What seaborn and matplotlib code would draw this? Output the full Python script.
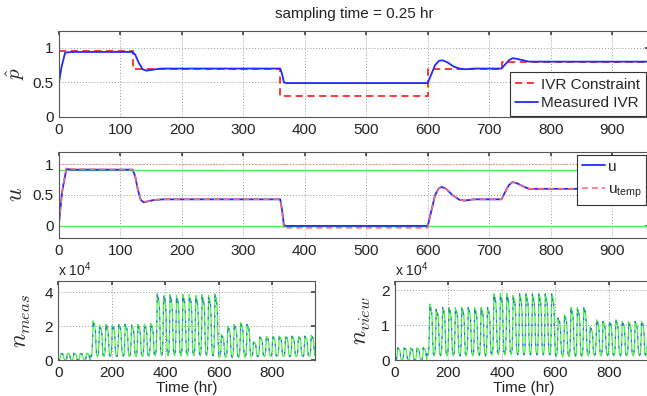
import matplotlib
matplotlib.use("Agg")
import matplotlib.pyplot as plt
from matplotlib.ticker import FuncFormatter
import seaborn as sns

# ---- IVR: constraint (steps) and measured response ----
t_con = [0, 120, 120, 360, 360, 600, 600, 720, 720, 960]
ivr_con = [0.95, 0.95, 0.70, 0.70, 0.30, 0.30, 0.70, 0.70, 0.80, 0.80]

t_ivr = [0, 4, 10, 20, 60, 120, 124, 130, 136, 142, 150, 165, 360, 363, 366,
         370, 600, 605, 612, 618, 624, 632, 642, 652, 662, 675, 720, 726, 732,
         738, 745, 755, 765, 780, 960]
ivr_meas = [0.50, 0.72, 0.93, 0.94, 0.94, 0.94, 0.90, 0.78, 0.69, 0.67, 0.68,
            0.70, 0.70, 0.62, 0.50, 0.49, 0.49, 0.60, 0.75, 0.81, 0.82, 0.79,
            0.73, 0.70, 0.69, 0.70, 0.70, 0.76, 0.82, 0.85, 0.84, 0.82, 0.80,
            0.80, 0.80]

# ---- control input u and u_temp ----
t_u = [0, 5, 12, 20, 120, 124, 128, 133, 138, 145, 155, 170, 360, 363, 366,
       370, 600, 606, 612, 618, 623, 630, 640, 652, 660, 675, 720, 726, 732,
       738, 745, 755, 765, 775, 960]
u_vals = [0.05, 0.55, 0.92, 0.91, 0.91, 0.80, 0.60, 0.42, 0.38, 0.40, 0.42,
          0.43, 0.43, 0.25, 0.01, 0.00, 0.00, 0.25, 0.50, 0.61, 0.63, 0.60,
          0.50, 0.42, 0.41, 0.43, 0.43, 0.55, 0.66, 0.71, 0.69, 0.64, 0.60,
          0.60, 0.60]
u_temp = [0.05, 0.55, 0.95, 0.92, 0.91, 0.80, 0.60, 0.42, 0.38, 0.40, 0.42,
          0.43, 0.43, 0.22, -0.05, -0.03, -0.03, 0.25, 0.50, 0.61, 0.63, 0.60,
          0.50, 0.42, 0.41, 0.43, 0.43, 0.55, 0.66, 0.71, 0.69, 0.64, 0.60,
          0.60, 0.60]
u_low, u_high, u_max = 0.0, 0.9, 1.0

# ---- daily cycles of n_meas / n_view (peak and trough per day, x 1e4) ----
meas_peak = [0.40, 0.40, 0.40, 0.40, 0.40,
             2.30, 2.05, 2.10, 2.05, 2.10, 2.10, 2.05, 2.10, 2.10, 2.15,
             3.90, 3.80, 3.85, 3.80, 3.85, 3.85, 3.80, 3.85, 3.80, 3.90,
             1.50, 2.00, 2.10, 2.20, 2.10,
             1.10, 1.35, 1.40, 1.40, 1.40, 1.40, 1.40, 1.40, 1.40, 1.45]
meas_trough = [0.00] * 5 + [0.20] * 10 + [0.25] * 10 + [0.15] * 5 + [0.20] * 10
view_peak = [0.35, 0.35, 0.35, 0.35, 0.35,
             1.60, 1.45, 1.50, 1.50, 1.50, 1.50, 1.50, 1.50, 1.50, 1.50,
             1.90, 1.90, 1.90, 1.85, 1.90, 1.90, 1.90, 1.90, 1.90, 1.90,
             1.20, 1.30, 1.50, 1.50, 1.50,
             0.95, 1.15, 1.10, 1.10, 1.15, 1.10, 1.10, 1.10, 1.10, 1.10]
view_trough = [0.00] * 5 + [0.12] * 10 + [0.15] * 10 + [0.10] * 5 + [0.12] * 10
meas_start, view_start = 3.0, 1.4
# shape of one day (hour of day, fraction between trough and peak)
cycle_hours = [0, 3, 6, 8, 10, 12, 14, 17, 19, 21, 23]
cycle_shape = [0.04, 0.0, 0.08, 0.40, 1.0, 0.88, 0.94, 0.85, 0.70, 0.30, 0.06]


def daily_series(peaks, troughs, start):
    t, v = [0], [start * 1e4]
    for d, (pk, tr) in enumerate(zip(peaks, troughs)):
        for h, f in zip(cycle_hours, cycle_shape):
            t.append(24 * d + h)
            v.append((tr + f * (pk - tr)) * 1e4)
    t.append(24 * len(peaks))
    v.append(v[-1])
    return t, v


sns.set_theme(style="white")
plt.rcParams['font.family'] = ['Liberation Sans', 'DejaVu Sans']
plt.rcParams['font.weight'] = 'normal'
plt.rcParams['axes.labelweight'] = 'normal'
plt.rcParams['mathtext.fontset'] = 'custom'
plt.rcParams['mathtext.rm'] = 'Liberation Sans'
plt.rcParams['mathtext.it'] = 'Liberation Sans:italic'
plt.rcParams['mathtext.bf'] = 'Liberation Sans:bold'

W, H = 647, 396
fig = plt.figure(figsize=(W / 100, H / 100), dpi=100)


def px_axes(left, top, width, height):
    return fig.add_axes([left / W, 1 - (top + height) / H, width / W, height / H])


def style(ax, xticks, yticks, xlim, ylim):
    ax.set_xlim(xlim)
    ax.set_ylim(ylim)
    ax.set_xticks(xticks)
    ax.set_yticks(yticks)
    ax.grid(True, linestyle=(0, (1, 2)), color='#999999', linewidth=0.7)
    ax.tick_params(direction='in', length=3, top=True, right=True,
                   labelsize=11, pad=4, color='#444444', labelcolor='#222222')
    for s in ax.spines.values():
        s.set_color('#555555')
        s.set_linewidth(0.8)
    ax.set_xlabel('')


RED = '#ff2a2a'
BLUE = '#1f2bff'
GREEN = '#44f044'

# ---- top: IVR ----
ax1 = px_axes(59, 30.5, 590, 86.5)
sns.lineplot(x=t_con, y=ivr_con, ax=ax1, color=RED, lw=1.3, sort=False,
             estimator=None, linestyle=(0, (4, 2.5)), label='IVR Constraint')
sns.lineplot(x=t_ivr, y=ivr_meas, ax=ax1, color=BLUE, lw=1.3, sort=False,
             estimator=None, label='Measured IVR')
style(ax1, range(0, 1000, 100), [0, 0.5, 1], (0, 960), (0, 1.25))
ax1.yaxis.set_major_formatter(FuncFormatter(lambda v, p: f'{v:g}'))
ax1.set_ylabel(r'$\hat{p}$', fontsize=15, math_fontfamily='cm')
ax1.yaxis.set_label_coords(-0.054, 0.5)
ax1.set_title('sampling time = 0.25 hr', fontsize=11, pad=9, color='#222222')
leg1 = ax1.legend(loc='upper left', bbox_to_anchor=(510 / W, 1 - 72.3 / H),
                  bbox_transform=fig.transFigure, borderaxespad=0, fontsize=11,
                  handlelength=1.45, handletextpad=0.25, labelspacing=0.3,
                  borderpad=0.35, fancybox=False, framealpha=1)
leg1.get_frame().set_edgecolor('#333333')
leg1.get_frame().set_linewidth(0.8)

# ---- middle: u ----
ax2 = px_axes(59, 151.7, 590, 86.6)
ax2.axhline(u_max, color='#ff7777', lw=0.8, linestyle=(0, (1, 2)))
ax2.axhline(u_high, color='#55ee55', lw=1.0)
ax2.axhline(u_low, color='#55ee55', lw=1.0)
sns.lineplot(x=t_u, y=u_vals, ax=ax2, color=BLUE, lw=1.3, sort=False,
             estimator=None, label='u')
sns.lineplot(x=t_u, y=u_temp, ax=ax2, color='#ff6a6a', lw=1.1, sort=False,
             estimator=None, linestyle=(0, (4, 2.5)), label=r'u$_{\mathrm{temp}}$')
style(ax2, range(0, 1000, 100), [0, 0.5, 1], (0, 960), (-0.2, 1.2))
ax2.yaxis.set_major_formatter(FuncFormatter(lambda v, p: f'{v:g}'))
ax2.set_ylabel(r'$u$', fontsize=17, math_fontfamily='cm')
ax2.yaxis.set_label_coords(-0.055, 0.5)
leg2 = ax2.legend(loc='upper left', bbox_to_anchor=(577.3 / W, 1 - 155 / H),
                  bbox_transform=fig.transFigure, borderaxespad=0, fontsize=11,
                  handlelength=1.5, handletextpad=0.2, labelspacing=0.6,
                  borderpad=0.3, fancybox=False, framealpha=1)
leg2.get_frame().set_edgecolor('#333333')
leg2.get_frame().set_linewidth(0.8)

# ---- bottom: n_meas and n_view ----
panels = [
    (58.3, meas_peak, meas_trough, meas_start, r'$n_{meas}$', [0, 2e4, 4e4],
     4.65e4, -0.10),
    (395.0, view_peak, view_trough, view_start, r'$n_{view}$', [0, 1e4, 2e4],
     2.26e4, -0.086),
]
for left, pk, tr, st, lab, yt, ytop, lx in panels:
    ax = px_axes(left, 281, 256.7, 79)
    t, v = daily_series(pk, tr, st)
    sns.lineplot(x=t, y=v, ax=ax, color=GREEN, lw=0.9, sort=False,
                 estimator=None)
    sns.lineplot(x=t, y=v, ax=ax, color='#3050ff', lw=0.9, sort=False,
                 estimator=None, linestyle=(0, (2, 6)), alpha=0.8)
    style(ax, range(0, 1000, 200), yt, (0, 960), (0, ytop))
    ax.yaxis.set_major_formatter(FuncFormatter(lambda v, p: f'{v / 1e4:g}'))
    ax.set_xlabel('Time (hr)', fontsize=11, labelpad=1, color='#222222',
                  fontweight='normal', family='Liberation Sans')
    ax.set_ylabel(lab, fontsize=17, math_fontfamily='cm')
    ax.yaxis.set_label_coords(lx, 0.5)
    ax.text(0, 1.02, r'x 10$^{4}$', transform=ax.transAxes, fontsize=10,
            ha='left', va='bottom', color='#222222')

fig.savefig('out.png', dpi=100)
